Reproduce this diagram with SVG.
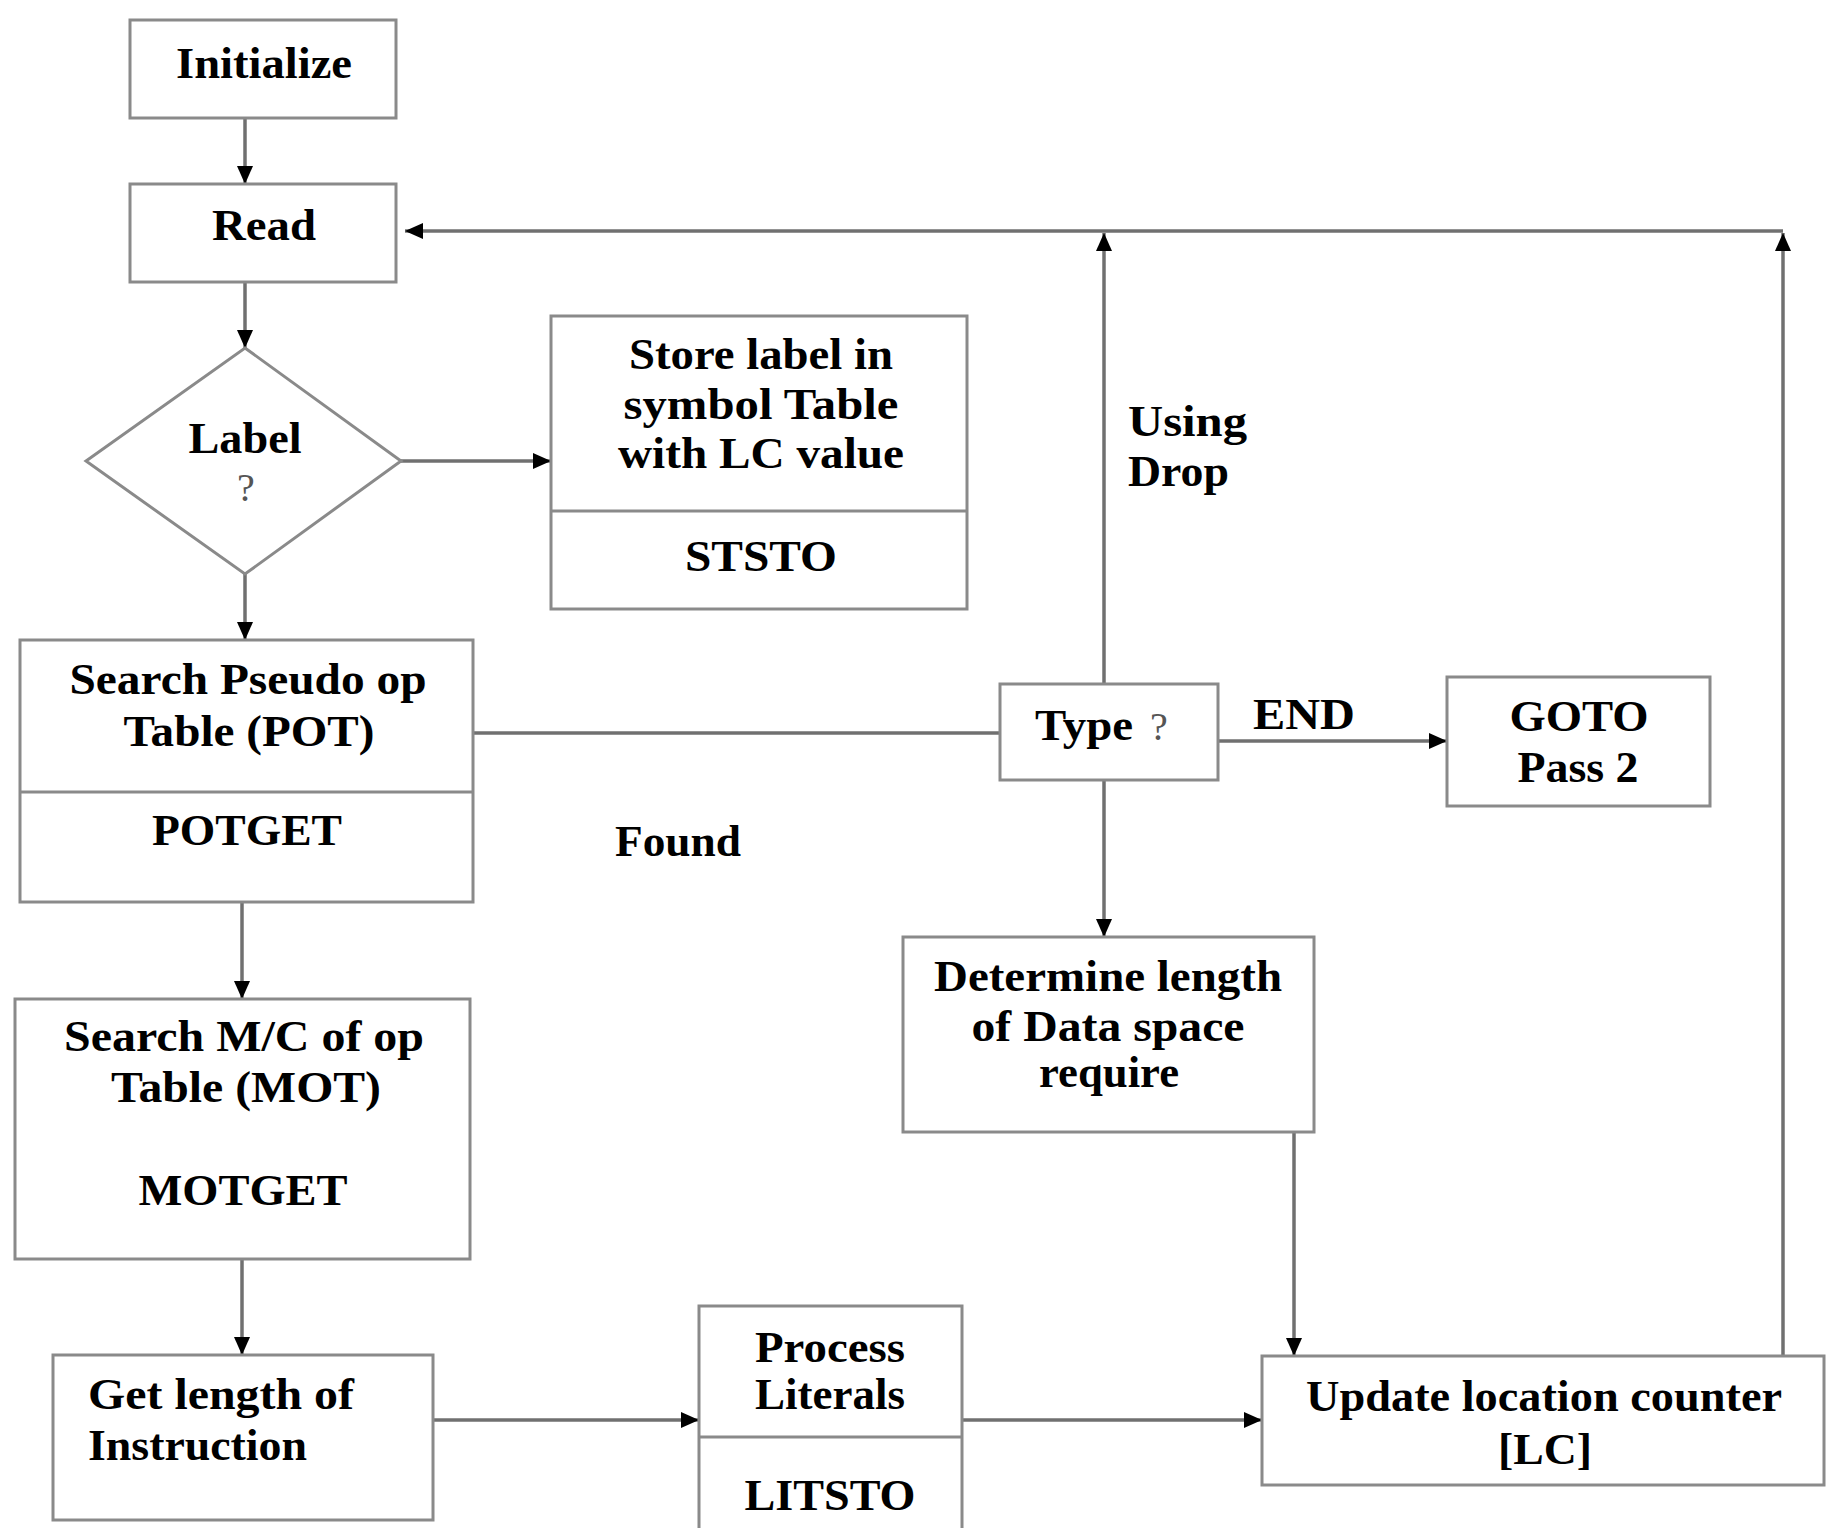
<svg xmlns="http://www.w3.org/2000/svg" width="1836" height="1528" viewBox="0 0 1836 1528">
<style>
.box{fill:#fff;stroke:#8a8a8a;stroke-width:3}
.div{fill:none;stroke:#8a8a8a;stroke-width:3}
.ln{fill:none;stroke:#707070;stroke-width:3.5}
.t{font-family:"Liberation Serif","Times New Roman",serif;font-weight:bold;font-size:44px;fill:#000}
.m{text-anchor:middle}
.q{font-weight:normal;fill:#555;font-size:40px}
</style>
<defs>
<marker id="ah" markerWidth="18" markerHeight="16" refX="18" refY="8" orient="auto" markerUnits="userSpaceOnUse"><path d="M0,0 L18,8 L0,16 z" fill="#000"/></marker>
</defs>
<rect width="1836" height="1528" fill="#fff"/>
<g id="connectors">
<path class="ln" d="M245,118 V184" marker-end="url(#ah)"/>
<path class="ln" d="M245,282 V348" marker-end="url(#ah)"/>
<path class="ln" d="M401,461 H551" marker-end="url(#ah)"/>
<path class="ln" d="M245,574 V640" marker-end="url(#ah)"/>
<path class="ln" d="M473,733 H1000"/>
<path class="ln" d="M1218,741 H1447" marker-end="url(#ah)"/>
<path class="ln" d="M1104,684 V233" marker-end="url(#ah)"/>
<path class="ln" d="M1783,231 H405" marker-end="url(#ah)"/>
<path class="ln" d="M1104,780 V937" marker-end="url(#ah)"/>
<path class="ln" d="M1294,1132 V1356" marker-end="url(#ah)"/>
<path class="ln" d="M1783,1356 V233" marker-end="url(#ah)"/>
<path class="ln" d="M242,902 V999" marker-end="url(#ah)"/>
<path class="ln" d="M242,1259 V1355" marker-end="url(#ah)"/>
<path class="ln" d="M433,1420 H699" marker-end="url(#ah)"/>
<path class="ln" d="M962,1420 H1262" marker-end="url(#ah)"/>
<text class="t" x="615" y="856" textLength="126" lengthAdjust="spacingAndGlyphs">Found</text>
<text class="t" x="1253" y="729" textLength="102" lengthAdjust="spacingAndGlyphs">END</text>
<text class="t" x="1128" y="436" textLength="119" lengthAdjust="spacingAndGlyphs">Using</text>
<text class="t" x="1128" y="486" textLength="101" lengthAdjust="spacingAndGlyphs">Drop</text>
</g>
<g id="initialize">
<rect class="box" x="130" y="20" width="266" height="98"/>
<text class="t m" x="264" y="78" textLength="176" lengthAdjust="spacingAndGlyphs">Initialize</text>
</g>
<g id="read">
<rect class="box" x="130" y="184" width="266" height="98"/>
<text class="t m" x="264" y="240" textLength="104" lengthAdjust="spacingAndGlyphs">Read</text>
</g>
<g id="label">
<polygon class="box" points="245,348 401,461 245,574 86,461"/>
<text class="t m" x="245" y="453" textLength="113" lengthAdjust="spacingAndGlyphs">Label</text>
<text class="t m q" x="246" y="501">?</text>
</g>
<g id="store">
<rect class="box" x="551" y="316" width="416" height="293"/>
<path class="div" d="M551,511 H967"/>
<text class="t m" x="761" y="369" textLength="264" lengthAdjust="spacingAndGlyphs">Store label in</text>
<text class="t m" x="761" y="419" textLength="275" lengthAdjust="spacingAndGlyphs">symbol Table</text>
<text class="t m" x="761" y="468" textLength="286" lengthAdjust="spacingAndGlyphs">with LC value</text>
<text class="t m" x="761" y="571" textLength="152" lengthAdjust="spacingAndGlyphs">STSTO</text>
</g>
<g id="pot">
<rect class="box" x="20" y="640" width="453" height="262"/>
<path class="div" d="M20,792 H473"/>
<text class="t m" x="248" y="694" textLength="357" lengthAdjust="spacingAndGlyphs">Search Pseudo op</text>
<text class="t m" x="249" y="746" textLength="251" lengthAdjust="spacingAndGlyphs">Table (POT)</text>
<text class="t m" x="247" y="845" textLength="190" lengthAdjust="spacingAndGlyphs">POTGET</text>
</g>
<g id="type">
<rect class="box" x="1000" y="684" width="218" height="96"/>
<text class="t" x="1035" y="740" textLength="98" lengthAdjust="spacingAndGlyphs">Type</text>
<text class="t q" x="1150" y="740">?</text>
</g>
<g id="goto">
<rect class="box" x="1447" y="677" width="263" height="129"/>
<text class="t m" x="1579" y="731" textLength="139" lengthAdjust="spacingAndGlyphs">GOTO</text>
<text class="t m" x="1578" y="782" textLength="121" lengthAdjust="spacingAndGlyphs">Pass 2</text>
</g>
<g id="determine">
<rect class="box" x="903" y="937" width="411" height="195"/>
<text class="t m" x="1108" y="991" textLength="348" lengthAdjust="spacingAndGlyphs">Determine length</text>
<text class="t m" x="1108" y="1041" textLength="273" lengthAdjust="spacingAndGlyphs">of Data space</text>
<text class="t m" x="1109" y="1087" textLength="140" lengthAdjust="spacingAndGlyphs">require</text>
</g>
<g id="mot">
<rect class="box" x="15" y="999" width="455" height="260"/>
<text class="t m" x="244" y="1051" textLength="360" lengthAdjust="spacingAndGlyphs">Search M/C of op</text>
<text class="t m" x="246" y="1102" textLength="270" lengthAdjust="spacingAndGlyphs">Table (MOT)</text>
<text class="t m" x="243" y="1205" textLength="209" lengthAdjust="spacingAndGlyphs">MOTGET</text>
</g>
<g id="getlength">
<rect class="box" x="53" y="1355" width="380" height="165"/>
<text class="t" x="88" y="1409" textLength="266" lengthAdjust="spacingAndGlyphs">Get length of</text>
<text class="t" x="88" y="1460" textLength="219" lengthAdjust="spacingAndGlyphs">Instruction</text>
</g>
<g id="process">
<rect class="box" x="699" y="1306" width="263" height="240"/>
<path class="div" d="M699,1437 H962"/>
<text class="t m" x="830" y="1362" textLength="150" lengthAdjust="spacingAndGlyphs">Process</text>
<text class="t m" x="830" y="1409" textLength="150" lengthAdjust="spacingAndGlyphs">Literals</text>
<text class="t m" x="830" y="1510" textLength="171" lengthAdjust="spacingAndGlyphs">LITSTO</text>
</g>
<g id="update">
<rect class="box" x="1262" y="1356" width="562" height="129"/>
<text class="t m" x="1544" y="1411" textLength="476" lengthAdjust="spacingAndGlyphs">Update location counter</text>
<text class="t m" x="1545" y="1464" textLength="94" lengthAdjust="spacingAndGlyphs">[LC]</text>
</g>
</svg>
